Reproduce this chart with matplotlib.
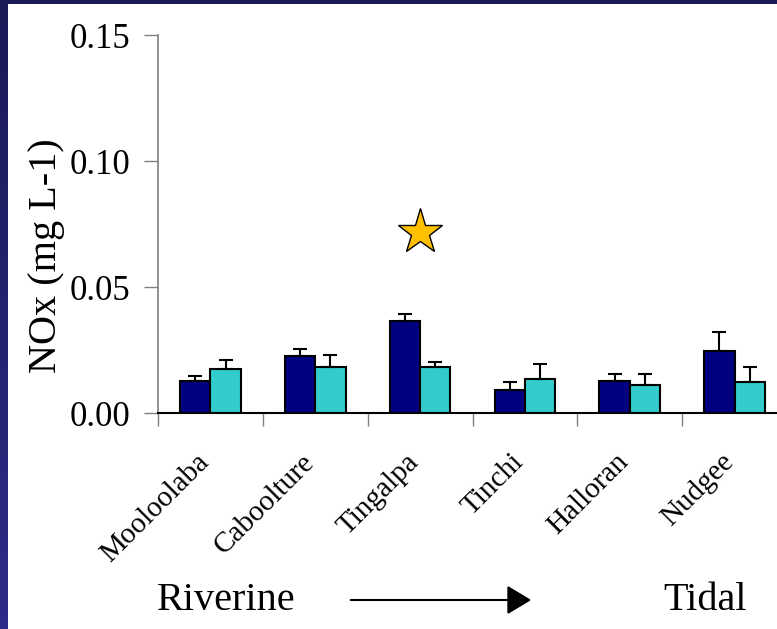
import numpy as np
import matplotlib
matplotlib.use("Agg")
import matplotlib.pyplot as plt

plt.rcParams['font.family'] = ['Liberation Serif', 'DejaVu Serif']

# NOx means and upper standard errors per site
sites = ["Mooloolaba", "Caboolture", "Tingalpa", "Tinchi", "Halloran", "Nudgee"]
nox_dark = [0.0127, 0.0225, 0.0365, 0.0091, 0.0126, 0.0247]
err_dark = [0.0020, 0.0028, 0.0029, 0.0033, 0.0029, 0.0076]
nox_light = [0.0175, 0.0181, 0.0183, 0.0134, 0.0111, 0.0124]
err_light = [0.0035, 0.0049, 0.0021, 0.0062, 0.0044, 0.0059]
star_site = 2
star_value = 0.072

W, H = 777, 629
fig = plt.figure(figsize=(W / 100, H / 100), dpi=100)
fig.patch.set_facecolor("white")

# slide border: navy strip on the left and top
grad = fig.add_axes([0, 0, 8 / W, 1])
grad.imshow(np.linspace(0, 1, 100).reshape(-1, 1), aspect="auto",
            cmap=matplotlib.colors.LinearSegmentedColormap.from_list("b", ["#1b1b58", "#2c2c88"]))
grad.axis("off")
top = fig.add_axes([0, 1 - 4 / H, 1, 4 / H])
top.set_facecolor("#1b1b58")
top.set_xticks([]); top.set_yticks([])
for s in top.spines.values():
    s.set_visible(False)

ax = fig.add_axes([158 / W, (H - 413) / H, 629 / W, 378 / H])
x = np.arange(len(sites))
w = 0.29

ax.bar(x - w / 2, nox_dark, w, color="#000080", edgecolor="black", linewidth=1.5, zorder=2)
ax.bar(x + w / 2, nox_light, w, color="#33CCCC", edgecolor="black", linewidth=1.5, zorder=2)
ax.errorbar(x - w / 2, nox_dark, yerr=[np.zeros(len(x)), err_dark], fmt="none",
            ecolor="black", elinewidth=1.5, capsize=5, capthick=1.5, zorder=3)
ax.errorbar(x + w / 2, nox_light, yerr=[np.zeros(len(x)), err_light], fmt="none",
            ecolor="black", elinewidth=1.5, capsize=5, capthick=1.5, zorder=3)

ax.plot(star_site, star_value, marker="*", markersize=34, markerfacecolor="#FFC000",
        markeredgecolor="black", markeredgewidth=1, zorder=4)

ax.set_xlim(-0.5, len(sites) - 0.5)
ax.set_ylim(0, 0.15)
ax.set_yticks([0, 0.05, 0.10, 0.15])
ax.set_yticklabels(["0.00", "0.05", "0.10", "0.15"], fontsize=25)
ax.set_xticks(np.arange(len(sites) + 1) - 0.5, minor=False)
ax.set_xticklabels([])
ax.set_xticks(x, minor=True)
ax.set_xticklabels(sites, minor=True, fontsize=21, rotation=45, ha="right",
                   va="baseline", rotation_mode="anchor")
ax.tick_params(axis="x", which="minor", length=0, pad=36)
ax.tick_params(axis="x", which="major", length=9, width=1, color="#808080", direction="out")
ax.tick_params(axis="y", length=10, width=1, color="#808080", direction="out", pad=10)

for side in ["top", "right"]:
    ax.spines[side].set_visible(False)
ax.spines["left"].set_color("#808080")
ax.spines["left"].set_linewidth(1.2)
ax.spines["bottom"].set_color("black")
ax.spines["bottom"].set_linewidth(1.5)

ax.set_ylabel("NOx (mg L-1)", fontsize=29)
ax.yaxis.set_label_coords(-0.148, 0.415)

fig.text(157 / W, 1 - 610 / H, "Riverine", fontsize=29, va="baseline", ha="left")
fig.text(663 / W, 1 - 610 / H, "Tidal", fontsize=29, va="baseline", ha="left")
fig.add_artist(matplotlib.patches.FancyArrowPatch(
    (348 / W, 1 - 600 / H), (534 / W, 1 - 600 / H), transform=fig.transFigure,
    arrowstyle="-|>,head_length=10,head_width=6", mutation_scale=1.5, color="black", linewidth=1.5))

fig.savefig("out.png", dpi=100)
